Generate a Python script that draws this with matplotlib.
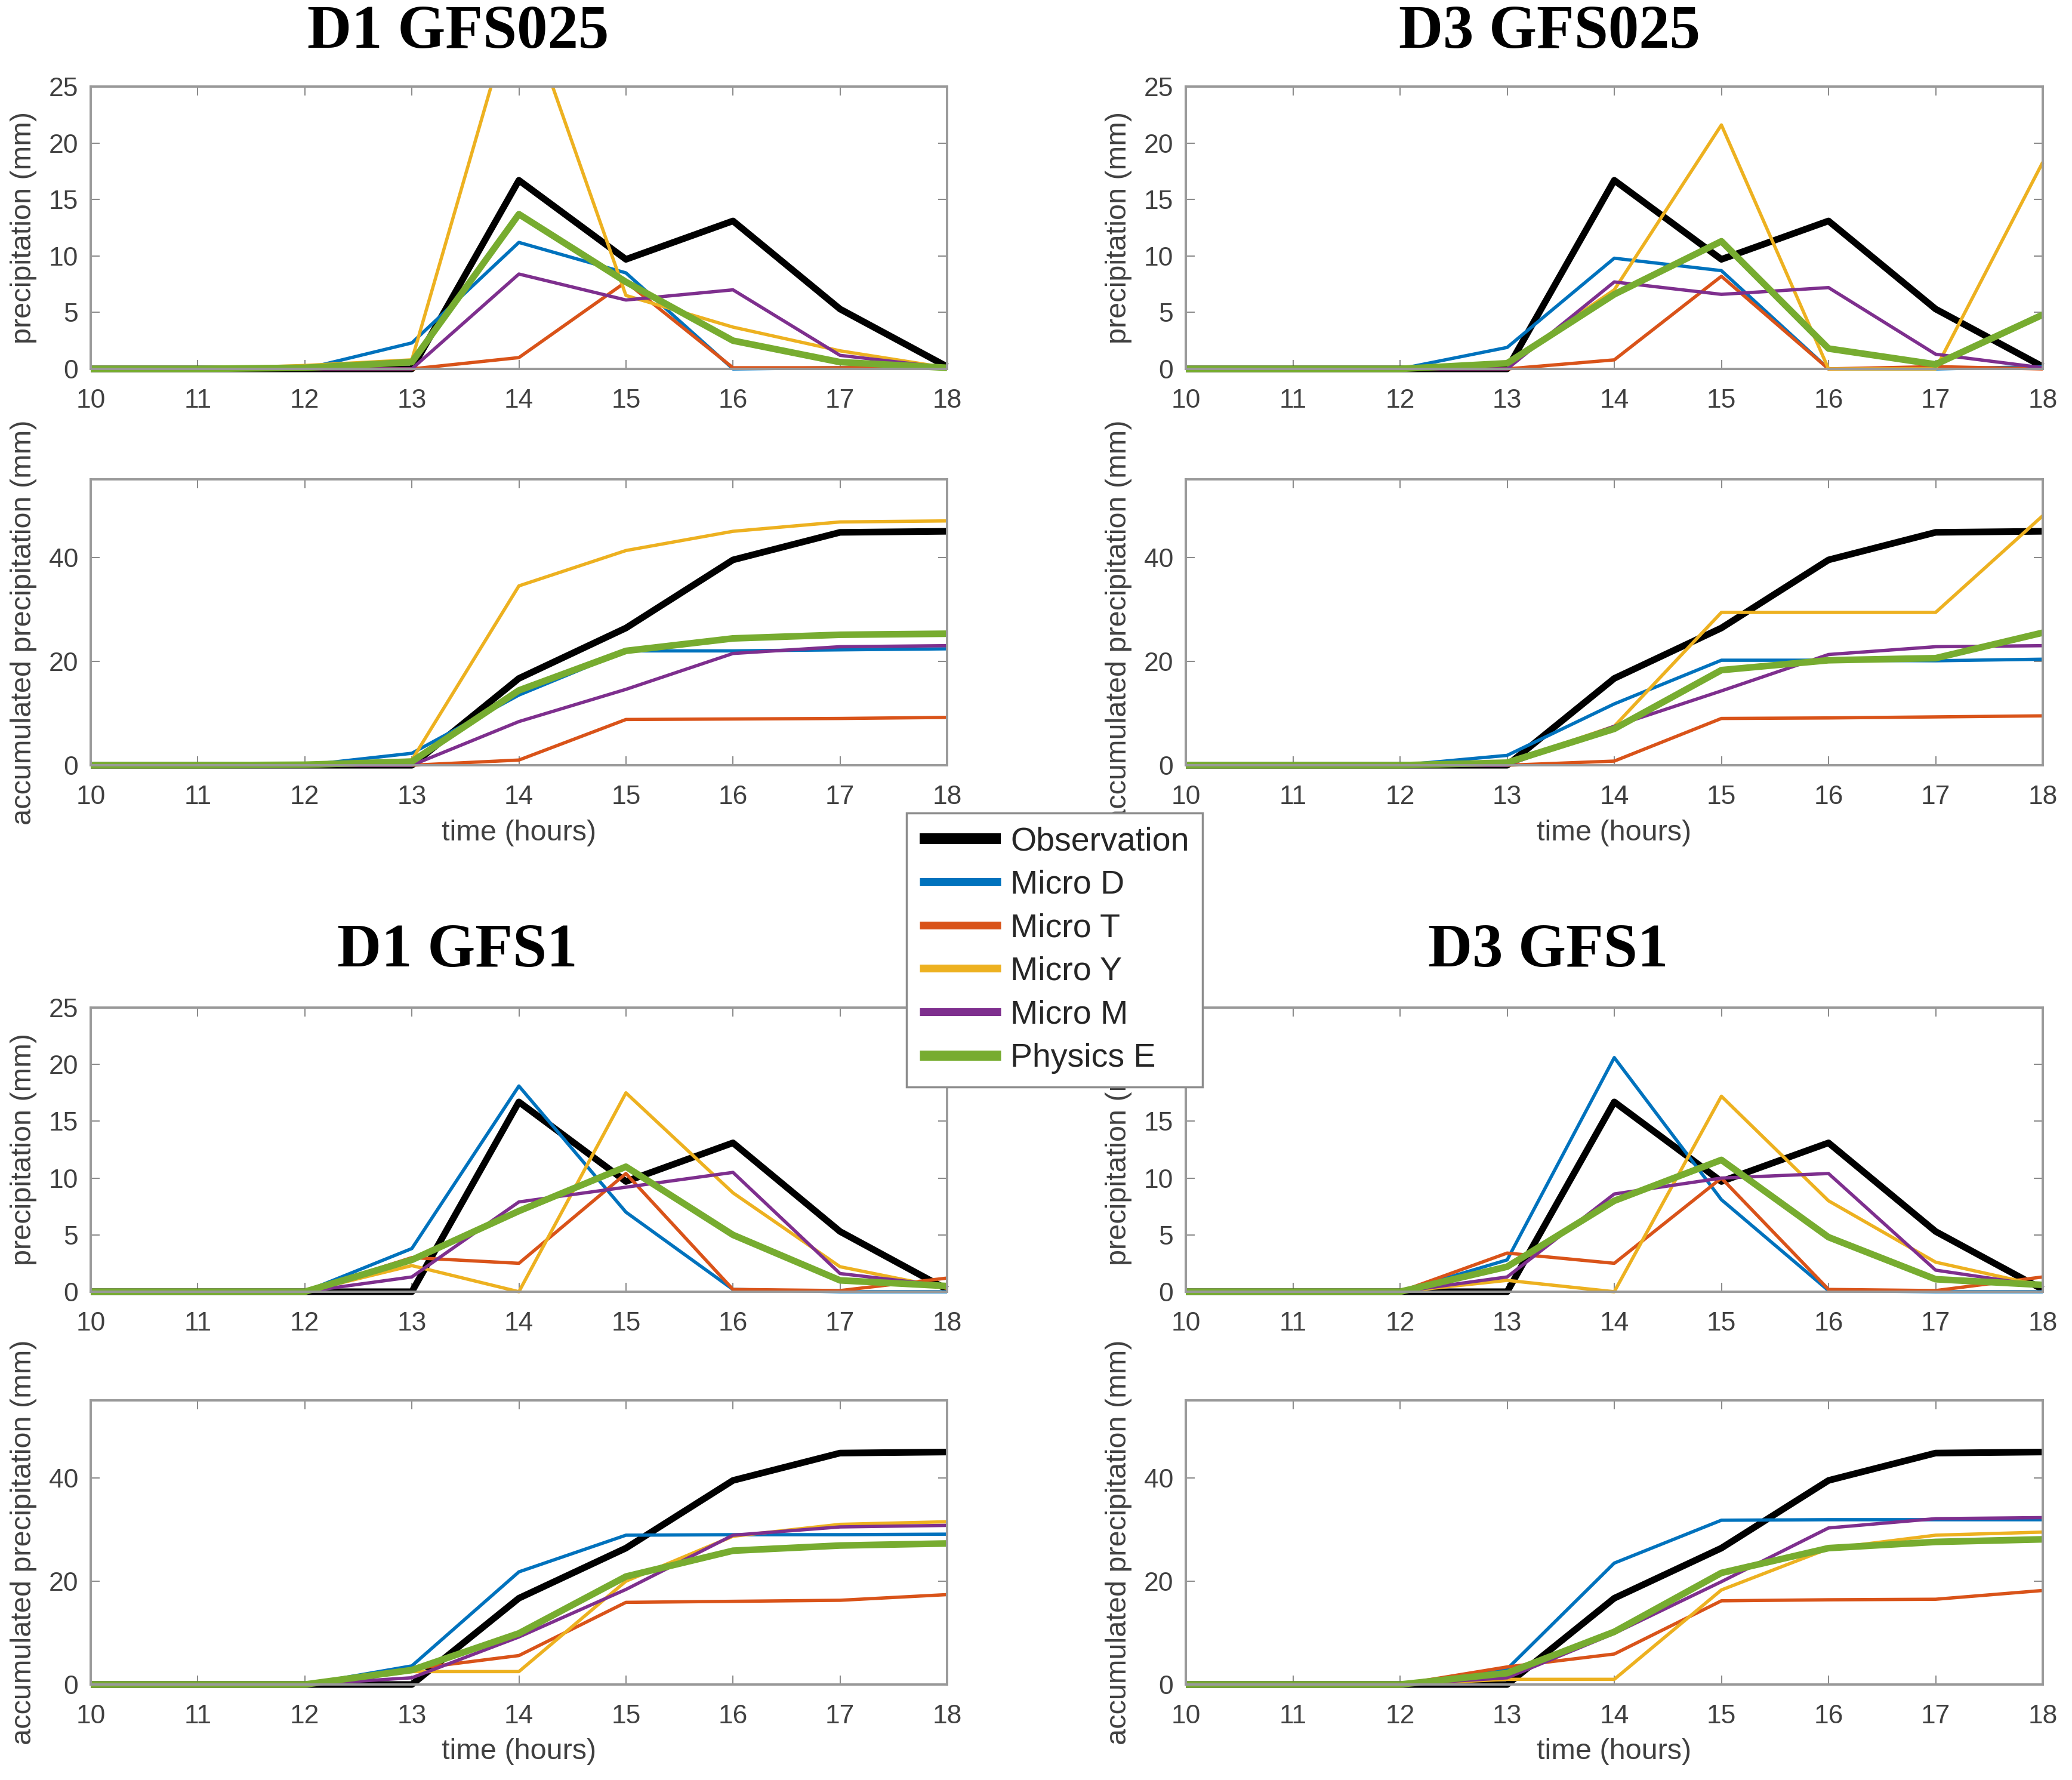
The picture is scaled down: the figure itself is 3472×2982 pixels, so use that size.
import matplotlib
matplotlib.use('Agg')
import matplotlib.pyplot as plt
from matplotlib import font_manager
from matplotlib.patches import Rectangle

# time axis (hours)
hours = [10, 11, 12, 13, 14, 15, 16, 17, 18]

names = ['Observation', 'Micro D', 'Micro T', 'Micro Y', 'Micro M', 'Physics E']
colors = ['#000000', '#0072BD', '#D95319', '#EDB120', '#7E2F8E', '#77AC30']
widths = [8, 4, 4, 4, 4, 8]

titles = ['D1 GFS025', 'D3 GFS025', 'D1 GFS1', 'D3 GFS1']

# observation (same for every panel)
obs_hourly = [0, 0, 0, 0, 16.7, 9.7, 13.1, 5.3, 0.2]
obs_accum = [0, 0, 0, 0, 16.7, 26.4, 39.5, 44.8, 45.0]

# D1 GFS025
d1_025_hourly_D = [0, 0, 0, 2.3, 11.2, 8.5, 0, 0.1, 0.2]
d1_025_hourly_T = [0, 0, 0, 0, 1.0, 7.7, 0.1, 0.1, 0.2]
d1_025_hourly_Y = [0, 0, 0.3, 0.8, 33.5, 6.5, 3.7, 1.6, 0.1]
d1_025_hourly_M = [0, 0, 0, 0, 8.4, 6.1, 7.0, 1.2, 0.1]
d1_025_hourly_E = [0, 0, 0.1, 0.6, 13.7, 7.7, 2.5, 0.6, 0.1]
d1_025_accum_D = [0, 0, 0, 2.3, 13.5, 22.0, 22.0, 22.2, 22.4]
d1_025_accum_T = [0, 0, 0, 0, 1.0, 8.8, 8.9, 9.0, 9.2]
d1_025_accum_Y = [0, 0, 0.2, 1.0, 34.5, 41.3, 45.0, 46.8, 47.0]
d1_025_accum_M = [0, 0, 0, 0, 8.4, 14.6, 21.5, 22.8, 23.0]
d1_025_accum_E = [0, 0, 0.1, 0.7, 14.4, 22.0, 24.4, 25.1, 25.3]

# D3 GFS025
d3_025_hourly_D = [0, 0, 0, 1.9, 9.8, 8.7, 0, 0, 0.2]
d3_025_hourly_T = [0, 0, 0, 0, 0.8, 8.2, 0, 0.2, 0]
d3_025_hourly_Y = [0, 0, 0, 0.5, 7.0, 21.6, 0, 0, 18.3]
d3_025_hourly_M = [0, 0, 0, 0, 7.7, 6.6, 7.2, 1.3, 0.1]
d3_025_hourly_E = [0, 0, 0, 0.5, 6.6, 11.3, 1.8, 0.4, 4.8]
d3_025_accum_D = [0, 0, 0, 1.9, 11.8, 20.2, 20.2, 20.1, 20.4]
d3_025_accum_T = [0, 0, 0, 0, 0.8, 9.0, 9.1, 9.3, 9.5]
d3_025_accum_Y = [0, 0, 0, 0.5, 7.5, 29.4, 29.4, 29.4, 48.0]
d3_025_accum_M = [0, 0, 0, 0, 7.5, 14.3, 21.3, 22.8, 23.0]
d3_025_accum_E = [0, 0, 0, 0.5, 7.0, 18.3, 20.2, 20.6, 25.5]

# D1 GFS1
d1_1_hourly_D = [0, 0, 0, 3.8, 18.1, 7.0, 0.2, 0, 0]
d1_1_hourly_T = [0, 0, 0, 3.0, 2.5, 10.4, 0.2, 0.1, 1.2]
d1_1_hourly_Y = [0, 0, 0, 2.3, 0, 17.5, 8.7, 2.2, 0.3]
d1_1_hourly_M = [0, 0, 0, 1.3, 7.9, 9.2, 10.5, 1.6, 0.5]
d1_1_hourly_E = [0, 0, 0, 2.8, 7.1, 11.0, 5.0, 1.0, 0.5]
d1_1_accum_D = [0, 0, 0, 3.6, 21.8, 28.9, 29.0, 29.0, 29.1]
d1_1_accum_T = [0, 0, 0, 3.0, 5.6, 15.9, 16.1, 16.3, 17.4]
d1_1_accum_Y = [0, 0, 0, 2.5, 2.5, 20.0, 28.7, 31.0, 31.5]
d1_1_accum_M = [0, 0, 0, 1.3, 9.2, 18.4, 28.9, 30.5, 30.8]
d1_1_accum_E = [0, 0, 0, 2.8, 9.9, 20.9, 25.9, 26.9, 27.3]

# D3 GFS1
d3_1_hourly_D = [0, 0, 0, 2.8, 20.6, 8.1, 0.1, 0, 0]
d3_1_hourly_T = [0, 0, 0, 3.4, 2.5, 10.0, 0.2, 0.1, 1.3]
d3_1_hourly_Y = [0, 0, 0, 1.0, 0, 17.2, 8.0, 2.6, 0.5]
d3_1_hourly_M = [0, 0, 0, 1.3, 8.6, 10.0, 10.4, 1.9, 0.5]
d3_1_hourly_E = [0, 0, 0, 2.2, 8.0, 11.6, 4.8, 1.1, 0.6]
d3_1_accum_D = [0, 0, 0, 3.0, 23.5, 31.8, 31.9, 31.9, 31.9]
d3_1_accum_T = [0, 0, 0, 3.4, 5.9, 16.2, 16.4, 16.5, 18.2]
d3_1_accum_Y = [0, 0, 0, 1.0, 1.0, 18.3, 26.3, 28.9, 29.5]
d3_1_accum_M = [0, 0, 0, 1.3, 9.9, 19.9, 30.3, 32.1, 32.3]
d3_1_accum_E = [0, 0, 0, 2.2, 10.2, 21.6, 26.4, 27.6, 28.1]

hourly_sets = [
    [obs_hourly, d1_025_hourly_D, d1_025_hourly_T, d1_025_hourly_Y, d1_025_hourly_M, d1_025_hourly_E],
    [obs_hourly, d3_025_hourly_D, d3_025_hourly_T, d3_025_hourly_Y, d3_025_hourly_M, d3_025_hourly_E],
    [obs_hourly, d1_1_hourly_D, d1_1_hourly_T, d1_1_hourly_Y, d1_1_hourly_M, d1_1_hourly_E],
    [obs_hourly, d3_1_hourly_D, d3_1_hourly_T, d3_1_hourly_Y, d3_1_hourly_M, d3_1_hourly_E],
]
accum_sets = [
    [obs_accum, d1_025_accum_D, d1_025_accum_T, d1_025_accum_Y, d1_025_accum_M, d1_025_accum_E],
    [obs_accum, d3_025_accum_D, d3_025_accum_T, d3_025_accum_Y, d3_025_accum_M, d3_025_accum_E],
    [obs_accum, d1_1_accum_D, d1_1_accum_T, d1_1_accum_Y, d1_1_accum_M, d1_1_accum_E],
    [obs_accum, d3_1_accum_D, d3_1_accum_T, d3_1_accum_Y, d3_1_accum_M, d3_1_accum_E],
]

# fonts
installed = {f.name for f in font_manager.fontManager.ttflist}
sans = 'Liberation Sans'
narrow = 'Liberation Sans Narrow' if 'Liberation Sans Narrow' in installed else sans
serif = 'Liberation Serif'

W, H = 3472, 2982
fig = plt.figure(figsize=(W / 100, H / 100), dpi=100)


def px_rect(x0, y0, x1, y1):
    return [x0 / W, 1 - y1 / H, (x1 - x0) / W, (y1 - y0) / H]


col_x = [(152, 1587), (1987, 3423)]
# (hourly top, hourly bottom, accum top, accum bottom) for each row
row_y = [(145, 618, 803, 1282), (1688, 2164, 2346, 2822)]
title_xy = [(768, 55), (2596, 55), (766, 1594), (2594, 1594)]

label_color = '#404040'
spine_color = '#999999'


def style(ax, ylim, yticks, ylabel):
    ax.set_xlim(10, 18)
    ax.set_ylim(*ylim)
    ax.set_xticks(hours)
    ax.set_yticks(yticks)
    ax.tick_params(axis='both', direction='in', length=11, width=1.5,
                   color='#8c8c8c', top=True, right=True,
                   labelsize=32, labelcolor=label_color)
    ax.tick_params(axis='x', pad=24)
    ax.tick_params(axis='y', pad=15)
    for lab in ax.get_xticklabels() + ax.get_yticklabels():
        lab.set_fontfamily(narrow)
    for s in ax.spines.values():
        s.set_color(spine_color)
        s.set_linewidth(2.8)
    ax.set_ylabel(ylabel, fontsize=35, family=sans, color=label_color)
    ax.yaxis.set_label_coords(-0.063, 0.5)


def draw(ax, series):
    # let lines on the zero baseline keep their full width
    clip = Rectangle((-0.01, -0.04), 1.02, 1.04, transform=ax.transAxes,
                     fill=False, visible=False)
    lines = []
    for vals, c, lw in zip(series, colors, widths):
        ln, = ax.plot(hours, vals, color=c, linewidth=lw,
                      solid_capstyle='butt', solid_joinstyle='round')
        ln.set_clip_path(clip)
        lines.append(ln)
    return lines


handles = None
for k in range(4):
    r, c = divmod(k, 2)
    x0, x1 = col_x[c]
    hy0, hy1, ay0, ay1 = row_y[r]

    ax_h = fig.add_axes(px_rect(x0, hy0, x1, hy1))
    lines = draw(ax_h, hourly_sets[k])
    style(ax_h, (0, 25), [0, 5, 10, 15, 20, 25], 'precipitation (mm)')
    if handles is None:
        handles = lines

    ax_a = fig.add_axes(px_rect(x0, ay0, x1, ay1))
    draw(ax_a, accum_sets[k])
    style(ax_a, (0, 55), [0, 20, 40], 'accumulated precipitation (mm)')
    ax_a.set_xlabel('time (hours)', fontsize=35, family=sans, color=label_color)
    ax_a.xaxis.set_label_coords(0.5, -0.19)

    tx, ty = title_xy[k]
    fig.text(tx / W, 1 - ty / H, titles[k], ha='center', va='center',
             fontsize=74, fontweight='bold', family=serif, color='black')

leg = fig.legend(handles, names, loc='upper left',
                 bbox_to_anchor=(1519 / W, 1 - 1362 / H),
                 bbox_transform=fig.transFigure, borderaxespad=0,
                 frameon=True, fancybox=False, framealpha=1,
                 edgecolor='#8c8c8c', facecolor='white',
                 prop={'family': sans, 'size': 40},
                 handlelength=2.45, handletextpad=0.28,
                 borderpad=0.4, labelspacing=0.37)
leg.get_frame().set_linewidth(2.5)
for ln, lw in zip(leg.legend_handles, [13, 9.4, 9.4, 9.4, 9.4, 12.2]):
    ln.set_linewidth(lw)
for t in leg.get_texts():
    t.set_color('#262626')

fig.savefig('out.png', dpi=100, facecolor='white')
